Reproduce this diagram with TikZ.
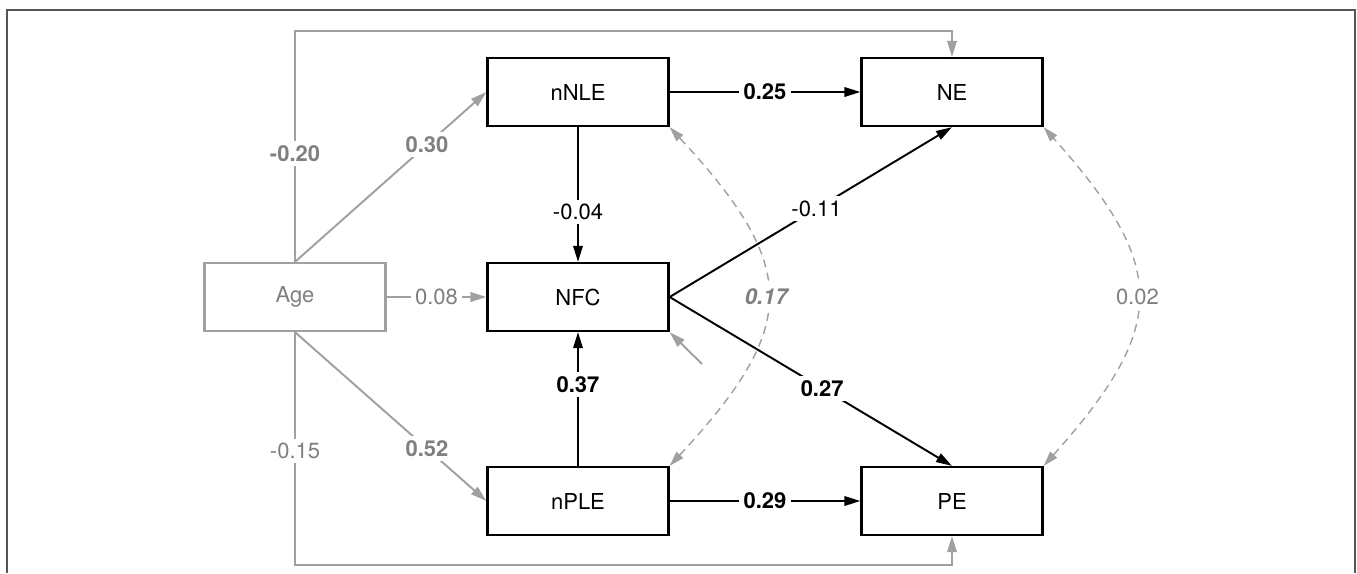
\documentclass[tikz,border=0pt]{standalone}
\usepackage{fontspec}
\setmainfont{TeX Gyre Heros}
\usetikzlibrary{arrows.meta}
\definecolor{lgray}{HTML}{A0A0A0}
\definecolor{tgray}{HTML}{808080}
\definecolor{fgray}{HTML}{555555}

\begin{document}
\begin{tikzpicture}[x=0.2mm,y=-0.2mm,
  box/.style={draw,line width=1.3pt,minimum width=36.2mm,minimum height=13.6mm,
    inner sep=0pt,font=\fontsize{12.5}{15}\selectfont},
  lbl/.style={fill=white,inner sep=2.5pt,font=\fontsize{12.5}{15}\selectfont},
  glbl/.style={lbl,text=tgray},
  barr/.style={-{Triangle[length=3.2mm,width=1.9mm]},line width=1.1pt},
  garr/.style={barr,lgray},
  gdash/.style={{Triangle[length=3mm,width=1.8mm]}-{Triangle[length=3mm,width=1.8mm]},
    lgray,line width=0.8pt,dash pattern=on 1.6mm off 1.1mm}]

\useasboundingbox (0,0) rectangle (1357,573);
\draw[fgray,line width=1pt] (7,573) -- (7,10) -- (1355,10) -- (1355,573);

% ---- the six variables -------------------------------------------------
\node[box,draw=lgray,text=tgray] (age)  at (295,297) {Age};
\node[box]                       (nnle) at (578,92)  {nNLE};
\node[box]                       (nfc)  at (578,297) {NFC};
\node[box]                       (nple) at (578,501) {nPLE};
\node[box]                       (ne)   at (952,92)  {NE};
\node[box]                       (pe)   at (952,501) {PE};

% corners of the two long detours round the boxes, and the error term
\coordinate (topL) at (295,31);
\coordinate (botL) at (295,565);
\coordinate (enfc) at (702,364);

% ---- paths from Age (grey) ---------------------------------------------
\draw[garr] (age.north) -- node[glbl,pos=0.47] {\textbf{-0.20}} (topL) -| (ne.north);
\draw[garr] (age.north) -- node[glbl,pos=0.69] {\textbf{0.30}} (nnle.west);
\draw[garr] (age) -- node[glbl] {0.08} (nfc);
\draw[garr] (age.south) -- node[glbl,pos=0.69] {\textbf{0.52}} (nple.west);
\draw[garr] (age.south) -- node[glbl,pos=0.51] {-0.15} (botL) -| (pe.south);
\draw[garr] (enfc) -- (nfc.south east);

% ---- paths between the other variables ---------------------------------
\draw[barr] (nnle) -- node[lbl] {\textbf{0.25}} (ne);
\draw[barr] (nnle) -- node[lbl,pos=0.63] {-0.04} (nfc);
\draw[barr] (nple) -- node[lbl,pos=0.61] {\textbf{0.37}} (nfc);
\draw[barr] (nple) -- node[lbl] {\textbf{0.29}} (pe);
\draw[barr] (nfc.east) -- node[lbl,pos=0.52] {-0.11} (ne.south);
\draw[barr] (nfc.east) -- node[lbl,pos=0.54] {\textbf{0.27}} (pe.north);

% ---- covariances -------------------------------------------------------
\draw[gdash] (nple.north east) .. controls +(130,-140) and +(130,140) ..
  node[glbl] {\textbf{\textit{0.17}}} (nnle.south east);
\draw[gdash] (pe.north east) .. controls +(125,-140) and +(125,140) ..
  node[glbl] {0.02} (ne.south east);
\end{tikzpicture}
\end{document}
